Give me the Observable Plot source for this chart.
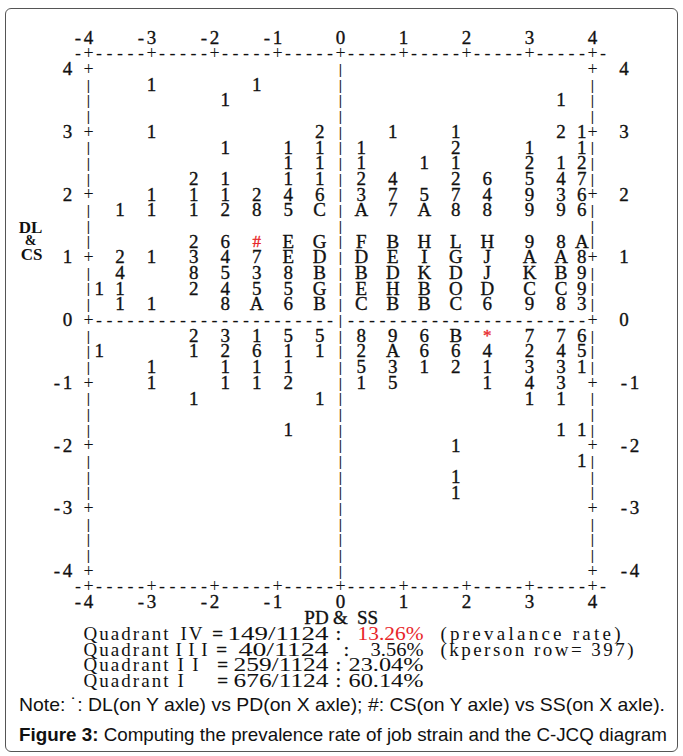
<!DOCTYPE html>
<html>
<head>
<meta charset="utf-8">
<script src="https://cdn.jsdelivr.net/npm/d3@7"></script>
<script src="https://cdn.jsdelivr.net/npm/@observablehq/plot@0.6"></script>
<style>
  html, body { margin: 0; padding: 0; background: #fff; }
  #wrap { position: relative; width: 683px; height: 756px; overflow: hidden; background: #fff; }
  #frame { position: absolute; left: 5px; top: 8px; width: 673px; height: 744px; border: 1px solid #555; border-radius: 6px; box-sizing: border-box; }
  #chart { position: absolute; left: 0; top: 0; }
  .cap { position: absolute; left: 0; white-space: nowrap; font-family: "Liberation Sans", Arial, sans-serif; font-size: 19px; color: #111; transform-origin: 0 50%; }
</style>
</head>
<body>
<div id="wrap">
  <div id="frame"></div>
  <div id="chart"></div>
  <span class="cap" id="note" style="top:694px">Note: ˙: DL(on Y axle) vs PD(on X axle); #: CS(on Y axle) vs SS(on X axle).</span>
  <span class="cap" id="fig" style="top:724px"><b>Figure 3:</b> Computing the prevalence rate of job strain and the C-JCQ diagram</span>
</div>
<script>
// ---------------- data ----------------
// x positions (PD & SS scores) of the plotted columns
const xCols = [-3.83, -3.5, -3, -2.33, -1.83, -1.33, -0.83, -0.33, 0.33, 0.83, 1.33, 1.83, 2.33, 3, 3.5, 3.83];
// y positions (DL & CS scores) of the plotted rows
const yRows = [3.75, 3.5, 3.25, 3, 2.75, 2.5, 2.25, 2, 1.75, 1.5, 1.25, 1, 0.75, 0.5, 0.25,
               -0.25, -0.5, -0.75, -1, -1.25, -1.5, -1.75, -2, -2.25, -2.5, -2.75];
// plot symbols (counts 1-9, A=10, B=11 ...), one character per x column; blank = no observation
const rowSymbols = [
  "  1  1          ",
  "    1         1 ",
  "                ",
  "  1    2 1 1  21",
  "    1 111  2 1 1",
  "      111 11 212",
  "   21 1124 26547",
  "  11124637574936",
  " 111285CA7A88996",
  "                ",
  "   26#EGFBHLH98A",
  " 21347EDDEIGJAA8",
  " 4 8538BBDKDJKB9",
  "11 2455GEHBODCC9",
  " 11 8A6BCBBC6983",
  "   23155896B*776",
  "1  126112A664245",
  "  1 111 53121331",
  "  1 112 15  143 ",
  "   1   1     11 ",
  "                ",
  "      1       11",
  "           1    ",
  "               1",
  "           1    ",
  "           1    "
];
const highlighted = ["#", "*"];
const tickValues = [-4, -3, -2, -1, 0, 1, 2, 3, 4];
const xLabel = "PD & SS";
const yLabel = ["DL", "&", "CS"];
const quadNames = ["Quadrant", "Quadrant", "Quadrant", "Quadrant"];
const quadIds = ["IV", "III", "II", "I"];
const quadCounts = ["149/1124", "40/1124", "259/1124", "676/1124"];
const quadRates = ["13.26%", "3.56%", "23.04%", "60.14%"];
const notes = ["(prevalance rate)", "(kperson row= 397)"];

// ---------------- layout helpers ----------------
const W = 683, H = 690;
const X0 = 88, X1 = 592, YTOP = 68.5, YBOT = 570.5;
const colX = c => -4 + c / 6;           // monospace column -> data x
const rowY = r => 4 - r / 4;            // monospace row -> data y
const pxX = p => -4 + (p - X0) / ((X1 - X0) / 8);
const SERIF = "Liberation Serif, Times New Roman, serif";

// symbols
const points = [];
rowSymbols.forEach((s, i) => [...s].forEach((ch, j) => {
  if (ch !== " ") points.push({x: xCols[j], y: yRows[i], ch});
}));
const blackPts = points.filter(d => !highlighted.includes(d.ch));
const redPts = points.filter(d => highlighted.includes(d.ch));

// frame characters (line-printer style axes)
const frameChars = [], barChars = [];
for (let r = 0; r <= 32; r++) {
  for (const c of [0, 48]) (r % 4 === 0 ? frameChars : barChars).push({x: colX(c), y: rowY(r), ch: r % 4 === 0 ? "+" : "|"});
  barChars.push({x: colX(24), y: rowY(r), ch: "|"});
}
for (let c = 1; c <= 47; c++) if (c !== 24) frameChars.push({x: colX(c), y: 0, ch: "-"});
for (const r of [-1, 33]) for (let c = -1; c <= 49; c++)
  frameChars.push({x: colX(c), y: rowY(r), ch: (c >= 0 && c <= 48 && c % 6 === 0) ? "+" : "-"});

// tick label characters
const tickChars = [];
tickValues.forEach(v => {
  const s = String(v), n = s.length, c = (v + 4) * 6, r = (4 - v) * 4;
  [...s].forEach((ch, i) => {
    const off = i - (n - 1);
    tickChars.push({x: colX(c + off), y: rowY(-2), ch});   // top
    tickChars.push({x: colX(c + off), y: rowY(34), ch});   // bottom
    tickChars.push({x: colX(-2 + off), y: rowY(r), ch});   // left
    tickChars.push({x: colX(51 + i), y: rowY(r), ch});     // right
  });
});

// axis titles
const yTitle = [
  {x: pxX(30), y: rowY(10.1), t: yLabel[0], s: 17},
  {x: pxX(30), y: rowY(10.95), t: yLabel[1], s: 14},
  {x: pxX(31), y: rowY(11.85), t: yLabel[2], s: 17}
];
const xTitle = [
  {x: pxX(316), y: rowY(35), t: xLabel.slice(0, 2)},
  {x: pxX(340), y: rowY(35), t: xLabel.slice(3, 4)},
  {x: pxX(367), y: rowY(35), t: xLabel.slice(5)}
];

// quadrant summary lines (start-anchored pieces with target widths; g = stretch glyphs)
const qRow = [36, 37, 38, 39];
const idPos = [[180, 22], [175, 32], [177, 21], [177, 0]];
const eqPos = [217, 221, 222, 222];
const cntPos = [[227, 101], [238, 90], [233, 95], [233, 95]];
const colonPos = [338, 346, 338, 338];
const ratePos = [[357, 66], [370, 53], [348, 75], [348, 75]];
const notePos = [[440, 180], [440, 193]];
const startPieces = [], midPieces = [];
quadNames.forEach((q, i) => {
  const y = rowY(qRow[i]);
  startPieces.push({x: pxX(83), y, t: q, w: 85, g: false, red: false});
  startPieces.push({x: pxX(idPos[i][0]), y, t: quadIds[i], w: idPos[i][1], g: false, red: false});
  startPieces.push({x: pxX(cntPos[i][0]), y, t: quadCounts[i], w: cntPos[i][1], g: true, red: false});
  startPieces.push({x: pxX(ratePos[i][0]), y, t: quadRates[i], w: ratePos[i][1], g: true, red: i === 0});
  midPieces.push({x: pxX(eqPos[i]), y, t: "="});
  midPieces.push({x: pxX(colonPos[i]), y, t: ":"});
});
notes.forEach((n, i) => startPieces.push({x: pxX(notePos[i][0]), y: rowY(qRow[i]), t: n, w: notePos[i][1], g: false, red: false}));

const RED = "#e8262a", INK = "#111";
const heavy = {stroke: INK, strokeWidth: 0.35};
const plot = Plot.plot({
  width: W, height: H,
  marginLeft: X0, marginRight: W - X1, marginTop: YTOP, marginBottom: H - YBOT,
  x: {domain: [-4, 4], axis: null},
  y: {domain: [-4, 4], axis: null},
  style: {overflow: "visible", background: "transparent"},
  marks: [
    Plot.text(frameChars, {x: "x", y: "y", text: "ch", fontSize: 18, fontFamily: SERIF, fill: INK}),
    Plot.text(barChars, {x: "x", y: "y", text: "ch", fontSize: 15, fontWeight: "bold", fontFamily: SERIF, fill: INK}),
    Plot.text(tickChars, {x: "x", y: "y", text: "ch", fontSize: 19, fontFamily: SERIF, fill: INK, ...heavy}),
    Plot.text(blackPts, {x: "x", y: "y", text: "ch", fontSize: 19, fontFamily: SERIF, fill: INK, ...heavy}),
    Plot.text(redPts, {x: "x", y: "y", text: "ch", fontSize: 17, fontFamily: SERIF, fill: RED, stroke: RED, strokeWidth: 0.35}),
    Plot.text(yTitle, {x: "x", y: "y", text: "t", fontSize: d => d.s, fontWeight: "bold", fontFamily: SERIF, fill: INK}),
    Plot.text(xTitle, {x: "x", y: "y", text: "t", fontSize: 19, fontFamily: SERIF, fill: INK, ...heavy}),
    Plot.text(startPieces.filter(d => !d.red), {x: "x", y: "y", text: "t", textAnchor: "start", fontSize: 19, fontFamily: SERIF, fill: INK}),
    Plot.text(startPieces.filter(d => d.red), {x: "x", y: "y", text: "t", textAnchor: "start", fontSize: 19, fontFamily: SERIF, fill: RED}),
    Plot.text(midPieces, {x: "x", y: "y", text: "t", fontSize: 19, fontFamily: SERIF, fill: INK, ...heavy})
  ]
});
document.getElementById("chart").appendChild(plot);

// stretch the summary pieces to the widths of the original line-printer output
const pieceOf = new Map(startPieces.filter(d => d.w > 0).map(d => [d.t, d]));
d3.select(plot).selectAll("text").each(function() {
  const p = pieceOf.get(this.textContent);
  if (p) d3.select(this).attr("textLength", p.w).attr("lengthAdjust", p.g ? "spacingAndGlyphs" : "spacing");
});

// fit caption lines to their widths
function fit(id, left, width) {
  const el = document.getElementById(id);
  const w = el.getBoundingClientRect().width;
  el.style.left = left + "px";
  el.style.transform = `scaleX(${width / w})`;
}
fit("note", 19, 646);
fit("fig", 19, 648);
</script>
</body>
</html>
